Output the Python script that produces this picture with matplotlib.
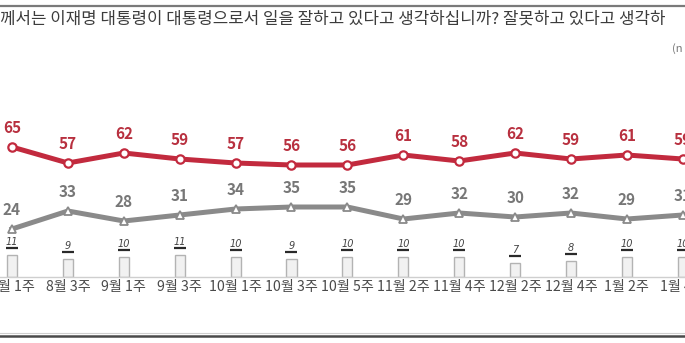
import matplotlib
matplotlib.use("Agg")
import matplotlib.pyplot as plt
from matplotlib.lines import Line2D
from matplotlib.transforms import offset_copy

plt.rcParams['font.family'] = ['Noto Sans CJK KR', 'DejaVu Sans']

weeks = ["7월 1주", "8월 3주", "9월 1주", "9월 3주", "10월 1주", "10월 3주", "10월 5주",
         "11월 2주", "11월 4주", "12월 2주", "12월 4주", "1월 2주", "1월 4주"]
approve = [65, 57, 62, 59, 57, 56, 56, 61, 58, 62, 59, 61, 59]
disapprove = [24, 33, 28, 31, 34, 35, 35, 29, 32, 30, 32, 29, 31]
no_opinion = [11, 9, 10, 11, 10, 9, 10, 10, 10, 7, 8, 10, 10]

title = "께서는 이재명 대통령이 대통령으로서 일을 잘하고 있다고 생각하십니까? 잘못하고 있다고 생각하"

W, H = 685, 343
fig = plt.figure(figsize=(W / 100, H / 100), dpi=100)

base_px = 277.0
px_per_unit = 2.0
ax = fig.add_axes([0, (H - base_px) / H, 1, base_px / H])
x0_px, step_px = 12.0, 55.9
ax.set_xlim(-x0_px / step_px, (W - x0_px) / step_px)
ax.set_ylim(0, base_px / px_per_unit)

xs = list(range(len(weeks)))
red = "#c22a3e"
red_txt = "#b8303f"
grey = "#8a8a8a"
grey_txt = "#777777"

# bars
ax.bar(xs, no_opinion, width=0.18, color="#f1f1f1", edgecolor="#b3b3b3",
       linewidth=1.0, zorder=2)
ul_trans = offset_copy(ax.transData, fig=fig, x=0, y=5, units="points")
ax.plot(xs, no_opinion, ls="none", marker="_", ms=8, mew=1.6, color="#2a2a2a",
        transform=ul_trans, zorder=5)
for x, v in zip(xs, no_opinion):
    ax.annotate(str(v), (x, v), xytext=(0, 6), textcoords="offset points",
                ha="center", va="bottom", fontsize=7, color="#444444",
                fontstyle="italic", family="DejaVu Sans", zorder=5)

# lines
ax.plot(xs, approve, color=red, lw=3.6, marker="o", ms=6, mfc="white",
        mec=red, mew=1.6, zorder=4, clip_on=False)
ax.plot(xs, disapprove, color=grey, lw=3.6, marker="^", ms=5.5, mfc="white",
        mec=grey, mew=1.3, zorder=3, clip_on=False)

for x, v in zip(xs, approve):
    ax.annotate(str(v), (x, v), xytext=(0, 13.5), textcoords="offset points",
                ha="center", va="center", fontsize=11, color=red_txt,
                fontweight="bold")
for x, v in zip(xs, disapprove):
    ax.annotate(str(v), (x, v), xytext=(0, 13.5), textcoords="offset points",
                ha="center", va="center", fontsize=11, color=grey_txt,
                fontweight="bold")

ax.set_xticks(xs)
ax.set_xticklabels(weeks, fontsize=10.2, color="#4a4a4a")
ax.tick_params(axis="x", length=0, pad=2.5)
ax.set_yticks([])
for s in ["top", "left", "right"]:
    ax.spines[s].set_visible(False)
ax.spines["bottom"].set_color("#cfcfcf")
ax.spines["bottom"].set_linewidth(1.0)
ax.patch.set_alpha(0)

fig.add_artist(Line2D([0, 1], [1 - 6 / H, 1 - 6 / H], color="#7a7a7a", lw=1.6))
fig.add_artist(Line2D([0, 1], [1 - 333 / H, 1 - 333 / H], color="#cfcfcf", lw=0.8))
fig.add_artist(Line2D([0, 1], [1 - 336 / H, 1 - 336 / H], color="#4a4a4a", lw=1.8))

fig.text(0, 1 - 19 / H, title, ha="left", va="center", fontsize=12.1,
         color="#3c3c3c")
fig.text(672 / W, 1 - 49 / H, "(n", ha="left", va="center", fontsize=8,
         color="#777777")

fig.savefig("out.png", dpi=100)
